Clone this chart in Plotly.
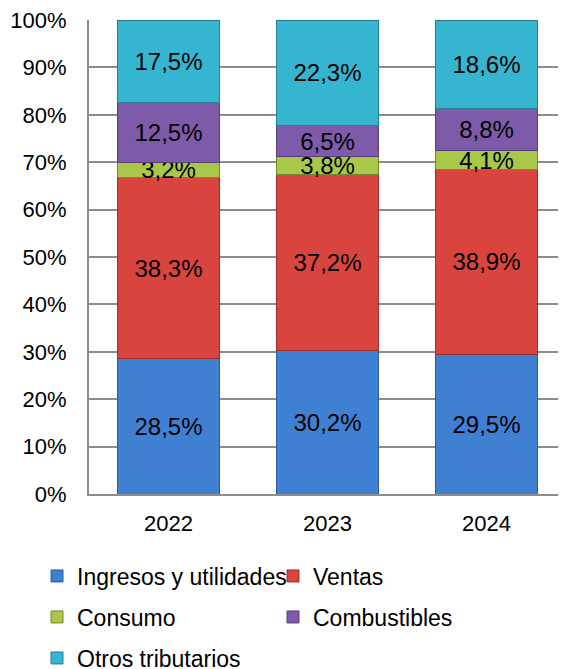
import plotly.graph_objects as go

years = ["2022", "2023", "2024"]
ingresos = [28.5, 30.2, 29.5]
ventas = [38.3, 37.2, 38.9]
consumo = [3.2, 3.8, 4.1]
combustibles = [12.5, 6.5, 8.8]
otros = [17.5, 22.3, 18.6]

series = [
    ("Ingresos y utilidades", ingresos, "#3F80D2", "#2A5C9C", "legend"),
    ("Ventas", ventas, "#D9443F", "#9E2E2B", "legend2"),
    ("Consumo", consumo, "#A9C84A", "#72892E", "legend3"),
    ("Combustibles", combustibles, "#7D5BA8", "#573F78", "legend4"),
    ("Otros tributarios", otros, "#36B5D0", "#247F93", "legend5"),
]

FONT = "Liberation Sans, Arial, sans-serif"
W, H = 558, 661  # page has an 8px body margin

fig = go.Figure()
for name, vals, col, edge, lg in series:
    fig.add_trace(go.Bar(
        x=years, y=vals, name=name,
        marker=dict(color=col, line=dict(color=edge, width=1)),
        text=[f"{v:.1f}%".replace(".", ",") for v in vals],
        textposition="inside", insidetextanchor="middle",
        constraintext="none",
        textfont=dict(family=FONT, size=24, color="black"),
        legend=lg,
    ))

def leg(xpx, ypx):
    return dict(
        orientation="h", xref="container", yref="container",
        x=xpx / W, y=1 - ypx / H,
        xanchor="left", yanchor="middle",
        font=dict(family=FONT, size=23, color="black"),
        itemwidth=30, bgcolor="rgba(0,0,0,0)", borderwidth=0,
    )

colA, colB = 29, 265
fig.update_layout(
    width=W, height=H,
    barmode="stack", bargap=0.36,
    margin=dict(l=81, r=0, t=12, b=175),
    plot_bgcolor="white", paper_bgcolor="white",
    font=dict(family=FONT, size=22, color="black"),
    showlegend=True,
    xaxis=dict(
        showline=True, linecolor="#8C8C8C", linewidth=2,
        ticks="outside", ticklen=9, tickcolor="rgba(0,0,0,0)",
        tickfont=dict(size=22), showgrid=False,
    ),
    yaxis=dict(
        range=[0, 100], dtick=10, ticksuffix="%",
        showline=True, linecolor="#8C8C8C", linewidth=2,
        showgrid=True, gridcolor="#8C8C8C", gridwidth=1.5,
        ticks="outside", ticklen=16, tickcolor="rgba(0,0,0,0)",
        tickfont=dict(size=22), zeroline=False,
        ticklabeloverflow="allow",
    ),
    legend=leg(colA, 568),
    legend2=leg(colB, 568),
    legend3=leg(colA, 609),
    legend4=leg(colB, 609),
    legend5=leg(colA, 650),
)

fig.write_html("out.html")
